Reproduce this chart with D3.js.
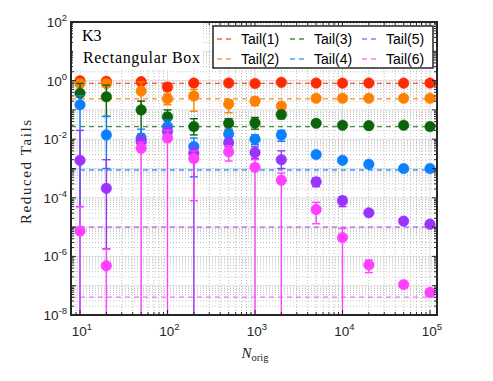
<!DOCTYPE html>
<html>
<head>
<meta charset="utf-8">
<script src="https://cdn.jsdelivr.net/npm/d3@7/dist/d3.min.js"></script>
<style>
body { margin: 0; background: #fff; }
</style>
</head>
<body>
<svg id="chart" width="493" height="381"></svg>
<script>
// sample sizes
var nOrig = [10, 20, 50, 100, 200, 500, 1000, 2000, 5000, 10000, 20000, 50000, 100000];

// point estimates per tail
var tail1 = [0.98, 0.95, 0.92, 0.6, 0.83, 0.83, 0.8, 0.87, 0.83, 0.82, 0.83, 0.82, 0.83];
var tail2 = [0.8, 0.8, 0.44, 0.24, 0.3, 0.16, 0.2, 0.135, 0.25, 0.25, 0.25, 0.25, 0.25];
var tail3 = [0.37, 0.28, 0.1, 0.058, 0.027, 0.035, 0.036, 0.07, 0.035, 0.03, 0.029, 0.03, 0.027];
var tail4 = [0.15, 0.014, 0.011, 0.027, 0.0056, 0.015, 0.01, 0.014, 0.003, 0.0019, 0.0014, 0.001, 0.001];
var tail5 = [0.0019, 2.1e-4, 0.0083, 0.018, 0.0033, 0.0076, 0.0035, 0.002, 3.5e-4, 8e-5, 3.1e-5, 1.6e-5, 1.26e-5];
var tail6 = [7.4e-6, 4.8e-7, 0.0049, 0.011, 0.0022, 0.0037, 0.0011, 4e-4, 4e-5, 4.4e-6, 5.1e-7, 1.1e-7, 5.9e-8];

// error bar ends (null = none, lower 0 = runs off the bottom)
var tail1Hi = [null, null, 1.05, 0.8, null, null, null, null, null, null, null, null, null];
var tail1Lo = [null, null, 0.75, 0.45, null, null, null, null, null, null, null, null, null];
var tail2Hi = [null, null, 0.9, 0.35, 0.5, 0.22, 0.27, 0.17, null, null, null, null, null];
var tail2Lo = [null, null, 0.1, 0.15, 0.09, 0.08, 0.14, 0.11, null, null, null, null, null];
var tail3Hi = [0.8, 0.7, 0.2, 0.1, 0.05, 0.05, 0.055, 0.09, null, null, null, null, null];
var tail3Lo = [0.15, 0.06, 0.015, 0.025, 0.014, 0.022, 0.022, 0.05, null, null, null, null, null];
var tail4Hi = [0.3, 0.06, 0.022, 0.045, 0.011, 0.02, 0.014, 0.02, null, null, null, null, null];
var tail4Lo = [0, 0.001, 0.006, 0.015, 5.2e-4, 0.01, 0.0065, 0.0085, null, null, null, null, null];
var tail5Hi = [0.02, 0.002, 0.013, 0.025, 0.0056, 0.01, 0.0055, 0.004, 4.7e-4, 1.1e-4, null, null, null];
var tail5Lo = [5e-5, 1.8e-6, 0.005, 0.012, 0, 0.0055, 0.0022, 0.001, 2.4e-4, 5e-5, null, null, null];
var tail6Hi = [5e-5, 1.8e-6, 0.008, 0.02, 0.004, 0.006, 0.002, 7e-4, 7e-5, 9e-6, 7.5e-7, null, null];
var tail6Lo = [0, 0, 0, 0, 8e-5, 0.0018, 0, 0, 1.3e-5, 0, 2.8e-7, null, null];

// reference (dashed) levels
var tailRef = [0.81, 0.24, 0.027, 8.9e-4, 1e-5, 4.1e-8];
var tailNames = ["Tail(1)", "Tail(2)", "Tail(3)", "Tail(4)", "Tail(5)", "Tail(6)"];
var tailColors = ["#ff2a00", "#ff8000", "#0a640a", "#0a80ff", "#9933ff", "#ff40ff"];

var yTicks = [1e2, 1e0, 1e-2, 1e-4, 1e-6, 1e-8];
var xTicks = [1e1, 1e2, 1e3, 1e4, 1e5];

var series = [
  {v: tail1, hi: tail1Hi, lo: tail1Lo},
  {v: tail2, hi: tail2Hi, lo: tail2Lo},
  {v: tail3, hi: tail3Hi, lo: tail3Lo},
  {v: tail4, hi: tail4Hi, lo: tail4Lo},
  {v: tail5, hi: tail5Hi, lo: tail5Lo},
  {v: tail6, hi: tail6Hi, lo: tail6Lo}
];

var L = 71, R = 437, T = 22, B = 315;
var x = d3.scaleLog().domain([10, 1e5]).range([80, 430]);
var y = d3.scaleLog().domain([1e-8, 1e2]).range([B, T]);
var xmin = x.invert(L), xmax = x.invert(R);

var svg = d3.select("#chart");
svg.append("defs").append("clipPath").attr("id", "clip")
  .append("rect").attr("x", L).attr("y", T).attr("width", R - L).attr("height", B - T);

var plot = svg.append("g").attr("clip-path", "url(#clip)");

// grid
var xMinor = [], xMajor = [];
for (var k = 0; k <= 5; k++) {
  for (var d = 1; d <= 9; d++) {
    var v = d * Math.pow(10, k);
    if (v < xmin || v > xmax) continue;
    if (d == 1) xMajor.push(v); else xMinor.push(v);
  }
}
var yMinor = [], yMajor = [];
for (var k = -8; k <= 2; k++) {
  for (var d = 1; d <= 9; d++) {
    var v = d * Math.pow(10, k);
    if (v > 100.0001) continue;
    if (d == 1) yMajor.push(v); else yMinor.push(v);
  }
}
var grid = plot.append("g");
grid.selectAll(".gxm").data(xMinor).enter().append("line")
  .attr("x1", d => x(d)).attr("x2", d => x(d)).attr("y1", T).attr("y2", B)
  .attr("stroke", "#b0b0b0").attr("stroke-width", 0.8).attr("stroke-dasharray", "1,2");
grid.selectAll(".gym").data(yMinor).enter().append("line")
  .attr("x1", L).attr("x2", R).attr("y1", d => y(d)).attr("y2", d => y(d))
  .attr("stroke", "#b0b0b0").attr("stroke-width", 0.8).attr("stroke-dasharray", "1,2");
grid.selectAll(".gxM").data(xMajor).enter().append("line")
  .attr("x1", d => x(d)).attr("x2", d => x(d)).attr("y1", T).attr("y2", B)
  .attr("stroke", "#dcdcdc").attr("stroke-width", 1);
grid.selectAll(".gyM").data(yMajor).enter().append("line")
  .attr("x1", L).attr("x2", R).attr("y1", d => y(d)).attr("y2", d => y(d))
  .attr("stroke", "#dcdcdc").attr("stroke-width", 1);

// reference dashed lines
plot.selectAll(".ref").data(tailRef).enter().append("line")
  .attr("x1", L).attr("x2", R).attr("y1", d => y(d)).attr("y2", d => y(d))
  .attr("stroke", (d, i) => tailColors[i]).attr("stroke-opacity", 0.75)
  .attr("stroke-width", 1.3).attr("stroke-dasharray", "5,4");

// error bars and markers
series.forEach(function(s, si) {
  var col = tailColors[si];
  var g = plot.append("g");
  nOrig.forEach(function(n, i) {
    var hi = s.hi[i], lo = s.lo[i];
    if (hi == null) return;
    var yTop = y(hi), yBot = lo > 0 ? y(lo) : B + 5;
    g.append("line").attr("x1", x(n)).attr("x2", x(n)).attr("y1", yTop).attr("y2", yBot)
      .attr("stroke", col).attr("stroke-width", 1.4);
    g.append("line").attr("x1", x(n) - 4).attr("x2", x(n) + 4).attr("y1", yTop).attr("y2", yTop)
      .attr("stroke", col).attr("stroke-width", 1.4);
    if (lo > 0)
      g.append("line").attr("x1", x(n) - 4).attr("x2", x(n) + 4).attr("y1", yBot).attr("y2", yBot)
        .attr("stroke", col).attr("stroke-width", 1.4);
  });
  g.selectAll("circle").data(s.v).enter().append("circle")
    .attr("cx", (d, i) => x(nOrig[i])).attr("cy", d => y(d)).attr("r", 5.3)
    .attr("fill", col).attr("stroke", col).attr("stroke-width", 0.5);
});

// frame and ticks
var ax = svg.append("g").attr("stroke", "#262626");
var tk = [];
xMajor.forEach(v => tk.push({x: x(v), len: 5}));
xMinor.forEach(v => tk.push({x: x(v), len: 3}));
tk.forEach(function(t) {
  ax.append("line").attr("x1", t.x).attr("x2", t.x).attr("y1", B).attr("y2", B - t.len).attr("stroke-width", 1);
  ax.append("line").attr("x1", t.x).attr("x2", t.x).attr("y1", T).attr("y2", T + t.len).attr("stroke-width", 1);
});
yMajor.forEach(function(v) {
  ax.append("line").attr("x1", L).attr("x2", L + 5).attr("y1", y(v)).attr("y2", y(v)).attr("stroke-width", 1);
  ax.append("line").attr("x1", R).attr("x2", R - 5).attr("y1", y(v)).attr("y2", y(v)).attr("stroke-width", 1);
});
yMinor.forEach(function(v) {
  ax.append("line").attr("x1", L).attr("x2", L + 3).attr("y1", y(v)).attr("y2", y(v)).attr("stroke-width", 1);
  ax.append("line").attr("x1", R).attr("x2", R - 3).attr("y1", y(v)).attr("y2", y(v)).attr("stroke-width", 1);
});
ax.append("rect").attr("x", L).attr("y", T).attr("width", R - L).attr("height", B - T)
  .attr("fill", "none").attr("stroke-width", 2);

// tick labels
function powLabel(sel, v) {
  var e = Math.round(Math.log10(v));
  sel.append("tspan").text("10");
  sel.append("tspan").attr("dy", -6).attr("font-size", 9.5).text(String(e));
}
yTicks.forEach(function(v) {
  var t = svg.append("text").attr("x", 67).attr("y", y(v) + 5)
    .attr("text-anchor", "end").attr("font-family", "Liberation Sans, Arial, sans-serif")
    .attr("font-size", 13.5).attr("fill", "#262626");
  powLabel(t, v);
});
xTicks.forEach(function(v) {
  var t = svg.append("text").attr("x", x(v) + 2).attr("y", 336)
    .attr("text-anchor", "middle").attr("font-family", "Liberation Sans, Arial, sans-serif")
    .attr("font-size", 13.5).attr("fill", "#262626");
  powLabel(t, v);
});

// axis titles
svg.append("text").attr("transform", "translate(31,172) rotate(-90)")
  .attr("text-anchor", "middle").attr("font-family", "Liberation Serif, serif")
  .attr("font-size", 15).attr("fill", "#262626")
  .attr("textLength", 104).attr("lengthAdjust", "spacing").text("Reduced Tails");
var xl = svg.append("text").attr("x", 255).attr("y", 358).attr("text-anchor", "middle")
  .attr("font-family", "Liberation Serif, serif").attr("font-size", 15).attr("fill", "#262626");
xl.append("tspan").attr("font-style", "italic").text("N");
xl.append("tspan").attr("dy", 3).attr("font-size", 10.5).text("orig");

// annotation box
svg.append("rect").attr("x", 73).attr("y", 23).attr("width", 130).attr("height", 47).attr("fill", "#fff");
svg.append("text").attr("x", 82).attr("y", 41).attr("font-family", "Liberation Serif, serif")
  .attr("font-size", 16).attr("fill", "#000").text("K3");
svg.append("text").attr("x", 83).attr("y", 63).attr("font-family", "Liberation Serif, serif")
  .attr("font-size", 16).attr("fill", "#000")
  .attr("textLength", 117).attr("lengthAdjust", "spacing").text("Rectangular Box");

// legend
var lg = svg.append("g");
lg.append("rect").attr("x", 213).attr("y", 26).attr("width", 220).attr("height", 42)
  .attr("fill", "#fff").attr("stroke", "#262626").attr("stroke-width", 1.5);
var colX = [215, 288, 360];
var rowY = [39, 59];
tailNames.forEach(function(name, i) {
  var cx = colX[Math.floor(i / 2)], cy = rowY[i % 2];
  lg.append("line").attr("x1", cx + 2).attr("x2", cx + 18).attr("y1", cy).attr("y2", cy)
    .attr("stroke", tailColors[i]).attr("stroke-opacity", 0.75)
    .attr("stroke-width", 1.3).attr("stroke-dasharray", "5,4");
  lg.append("text").attr("x", cx + 26).attr("y", cy + 5)
    .attr("font-family", "Liberation Sans, Arial, sans-serif").attr("font-size", 14)
    .attr("fill", "#000").text(name);
});
</script>
</body>
</html>
